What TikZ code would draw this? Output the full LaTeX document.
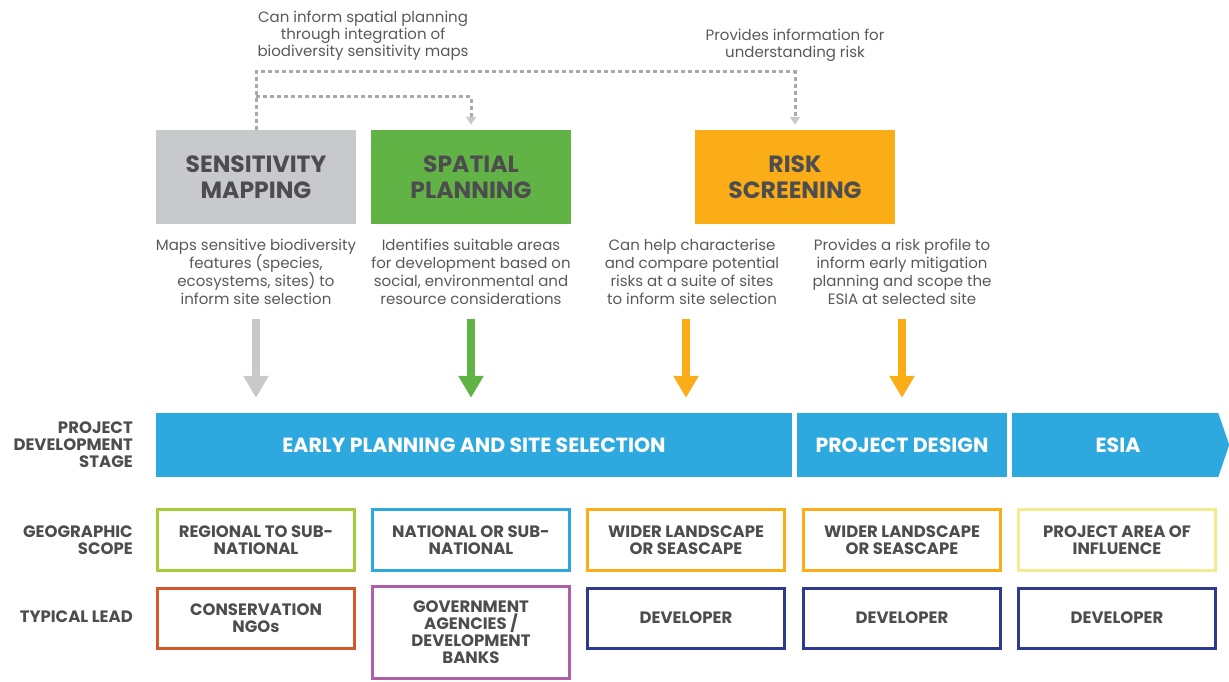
\documentclass[tikz,border=0pt]{standalone}
\usepackage{fontspec}
\setmainfont{Poppins}
\usetikzlibrary{arrows.meta}
\definecolor{greycol}{HTML}{C8C9CB}
\definecolor{greencol}{HTML}{62B346}
\definecolor{orangecol}{HTML}{FBAD18}
\definecolor{bluecol}{HTML}{2EA9DF}
\definecolor{limecol}{HTML}{A5CD39}
\definecolor{yellowcol}{HTML}{F1EC8F}
\definecolor{redcol}{HTML}{D4582A}
\definecolor{purplecol}{HTML}{B05EA8}
\definecolor{navycol}{HTML}{2E3A8F}
\definecolor{dotcol}{HTML}{A7A9AC}
\definecolor{titlecol}{HTML}{4D4D4F}
\definecolor{desccol}{HTML}{58595B}
\tikzset{every picture/.style={x=1pt,y=-1pt}}
\tikzset{title/.style={minimum width=200pt,minimum height=94pt,inner sep=0pt,align=center,text=titlecol,font=\fontsize{23.5}{26}\selectfont\bfseries}}
\tikzset{desc/.style={anchor=north,inner sep=0pt,align=center,text=desccol,font=\fontsize{15}{18}\selectfont}}
\tikzset{fat/.style={line width=8pt,-{Triangle[width=24pt,length=22pt]},shorten <=14pt,shorten >=15pt}}
\tikzset{dots/.style={dotcol,line width=3pt,dash pattern=on 4pt off 3pt,-{Triangle[width=10pt,length=8pt,fill=greycol,color=greycol]},shorten >=5pt}}
\tikzset{stage/.style={fill=bluecol,minimum height=64pt,inner sep=0pt,text=white,font=\fontsize{20.5}{22}\selectfont\bfseries}}
\tikzset{cell/.style={draw=#1,line width=3pt,minimum width=197pt,minimum height=61pt,inner sep=0pt,align=center,text=titlecol,font=\fontsize{16.5}{17}\selectfont\bfseries}}
\tikzset{lead/.style={cell=#1,minimum height=60pt}}
\tikzset{rowlabel/.style={anchor=east,inner sep=0pt,align=right,text=titlecol,font=\fontsize{16.5}{17}\selectfont\bfseries}}

\begin{document}
\begin{tikzpicture}
\useasboundingbox (0,0) rectangle (1229,681);

\node [title,fill=greycol] (sens) at (256,177) {SENSITIVITY\\MAPPING};
\node [title,fill=greencol] (spat) at (471,177) {SPATIAL\\PLANNING};
\node [title,fill=orangecol] (risk) at (795,177) {RISK\\SCREENING};

\node [desc,font=\fontsize{15}{17}\selectfont] (nspat) at (363,11) {Can inform spatial planning\\through integration of\\biodiversity sensitivity maps};
\node [desc,font=\fontsize{15}{17}\selectfont] (nrisk) at (795,29) {Provides information for\\understanding risk};

\draw [dots] (sens.north) -- ++(0,-58) -| (risk.north);
\draw [dots] ([yshift=33pt]sens.north) -| (spat.north);

\node [desc] (dsens) at (256,239) {Maps sensitive biodiversity\\features (species,\\ecosystems, sites) to\\inform site selection};
\node [desc] (dspat) at (471,239) {Identifies suitable areas\\for development based on\\social, environmental and\\resource considerations};
\node [desc] (dchar) at (692,239) {Can help characterise\\and compare potential\\risks at a suite of sites\\to inform site selection};
\node [desc] (dprof) at (902,239) {Provides a risk profile to\\inform early mitigation\\planning and scope the\\ESIA at selected site};

\node [stage,minimum width=636pt] (early) at (474,445) {EARLY PLANNING AND SITE SELECTION};
\node [stage,minimum width=210pt] (design) at (902,445) {PROJECT DESIGN};
\node [stage,minimum width=206pt] (esia) at (1115,445) {\hspace*{6pt}ESIA};
\fill [bluecol] (esia.north east) -- ++(11,32) -- (esia.south east) -- cycle;

\draw [fat,greycol] (dsens.south) -- (dsens.south |- early.north);
\draw [fat,greencol] (dspat.south) -- (dspat.south |- early.north);
\draw [fat,orangecol] ([xshift=-6pt]dchar.south) -- ([xshift=-6pt]dchar.south |- early.north);
\draw [fat,orangecol] (dprof.south) -- (dprof.south |- design.north);

\node [rowlabel] (lstage) at (133,445) {PROJECT\\DEVELOPMENT\\STAGE};
\node [rowlabel] (lscope) at (133,540) {GEOGRAPHIC\\SCOPE};
\node [rowlabel] (llead) at (133,617) {TYPICAL LEAD};

\node [cell=limecol] (s1) at (256,540) {REGIONAL TO SUB-\\NATIONAL};
\node [cell=bluecol] (s2) at (471,540) {NATIONAL OR SUB-\\NATIONAL};
\node [cell=orangecol] (s3) at (686,540) {WIDER LANDSCAPE\\OR SEASCAPE};
\node [cell=orangecol] (s4) at (902,540) {WIDER LANDSCAPE\\OR SEASCAPE};
\node [cell=yellowcol] (s5) at (1117,540) {PROJECT AREA OF\\INFLUENCE};

\node [lead=redcol] (l1) at (256,618) {CONSERVATION\\NGOs};
\node [lead=purplecol,minimum height=92pt] (l2) at (471,632.5) {GOVERNMENT\\AGENCIES /\\DEVELOPMENT\\BANKS};
\node [lead=navycol] (l3) at (686,618) {DEVELOPER};
\node [lead=navycol] (l4) at (902,618) {DEVELOPER};
\node [lead=navycol] (l5) at (1117,618) {DEVELOPER};
\end{tikzpicture}
\end{document}
